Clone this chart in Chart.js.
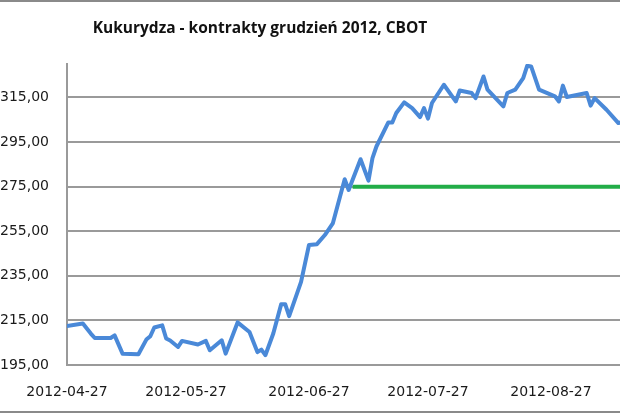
<!DOCTYPE html>
<html>
<head>
<meta charset="utf-8">
<style>
    html, body { margin: 0; padding: 0; background: #ffffff; }
    #wrap { position: relative; width: 620px; height: 413px; }
</style>
<script src="https://cdn.jsdelivr.net/npm/chart.js@4.4.4/dist/chart.umd.min.js"></script>
</head>
<body>
<div id="wrap"><canvas id="chart" width="620" height="413"></canvas></div>
<script>
const chartTitle = "Kukurydza - kontrakty grudzień 2012, CBOT";

const dates = [
    "2012-04-27", "2012-05-01", "2012-05-03", "2012-05-04", "2012-05-08", "2012-05-09",
    "2012-05-11", "2012-05-15", "2012-05-17", "2012-05-18", "2012-05-19", "2012-05-21",
    "2012-05-22", "2012-05-23", "2012-05-25", "2012-05-26", "2012-05-30", "2012-06-01",
    "2012-06-02", "2012-06-05", "2012-06-06", "2012-06-09", "2012-06-12", "2012-06-14",
    "2012-06-15", "2012-06-16", "2012-06-18", "2012-06-20", "2012-06-21", "2012-06-22",
    "2012-06-25", "2012-06-27", "2012-06-29", "2012-07-01", "2012-07-03", "2012-07-06",
    "2012-07-07", "2012-07-10", "2012-07-12", "2012-07-13", "2012-07-14", "2012-07-17",
    "2012-07-18", "2012-07-19", "2012-07-21", "2012-07-23", "2012-07-25", "2012-07-26",
    "2012-07-27", "2012-07-28", "2012-07-31", "2012-08-03", "2012-08-04", "2012-08-07",
    "2012-08-08", "2012-08-10", "2012-08-11", "2012-08-15", "2012-08-16", "2012-08-18",
    "2012-08-20", "2012-08-21", "2012-08-22", "2012-08-24", "2012-08-28", "2012-08-29",
    "2012-08-30", "2012-08-31", "2012-09-05", "2012-09-06", "2012-09-07", "2012-09-10",
    "2012-09-13", "2012-09-14"
];

const prices = [
    212.5, 213.6, 209.1, 207.1, 207.1, 208.3,
    200.1, 199.8, 206.4, 207.9, 211.8, 212.8,
    206.9, 206.0, 203.1, 205.8, 204.2, 205.8,
    201.6, 206.1, 200.1, 214.1, 209.8, 200.8,
    201.9, 199.4, 209.1, 222.3, 222.3, 216.9,
    232.3, 248.8, 249.2, 253.3, 258.5, 278.3,
    273.5, 287.3, 277.7, 287.8, 293.0, 303.8,
    303.8, 308.0, 312.8, 310.2, 306.2, 310.2,
    305.5, 312.5, 320.7, 313.2, 318.1, 317.0,
    314.7, 324.4, 318.5, 311.0, 317.0, 318.5,
    323.7, 329.2, 328.9, 318.5, 315.5, 313.2,
    320.3, 315.2, 317.0, 311.3, 314.7, 309.5,
    303.5, 304.0
];

const targetDates = ["2012-07-08", "2012-09-14"];
const targetValues = [275, 275];

const xTickLabels = ["2012-04-27", "2012-05-27", "2012-06-27", "2012-07-27", "2012-08-27"];
const yTicks = [195, 215, 235, 255, 275, 295, 315];
const yMin = 195;
const yMax = 330;
const lastDate = "2012-09-13";

const DAY = 86400000;

function dayOffset(text) {
    return (Date.parse(text) - Date.parse(dates[0])) / DAY;
}

function dayToLabel(day) {
    return new Date(Date.parse(dates[0]) + Math.round(day) * DAY).toISOString().slice(0, 10);
}

function formatPrice(value) {
    return Number(value).toFixed(2).replace(".", ",");
}

const framePlugin = {
    id: "frame",
    afterDraw(chart) {
        const { ctx, width, height } = chart;
        ctx.save();
        ctx.fillStyle = "#111111";
        ctx.font = "bold 15.5px 'Open Sans', sans-serif";
        ctx.textAlign = "center";
        ctx.textBaseline = "middle";
        ctx.fillText(chartTitle, 260, 29);

        // chart border, only top and bottom edges visible
        ctx.strokeStyle = "#8a8a8a";
        ctx.lineWidth = 2;
        ctx.beginPath();
        ctx.moveTo(0, 1);
        ctx.lineTo(width, 1);
        ctx.moveTo(0, height - 1);
        ctx.lineTo(width, height - 1);
        ctx.stroke();
        ctx.restore();
    }
};

const priceLine = dates.map((d, i) => ({ x: dayOffset(d), y: prices[i] }));
const targetLine = targetDates.map((d, i) => ({ x: dayOffset(d), y: targetValues[i] }));

new Chart(document.getElementById("chart"), {
    type: "line",
    data: {
        datasets: [
            {
                label: "Kukurydza",
                data: priceLine,
                borderColor: "#4a89d8",
                borderWidth: 4,
                tension: 0,
                pointRadius: 0,
                borderJoinStyle: "round",
                borderCapStyle: "round",
                fill: false
            },
            {
                label: "275",
                data: targetLine,
                borderColor: "#22ad48",
                borderWidth: 4,
                tension: 0,
                pointRadius: 0,
                fill: false
            }
        ]
    },
    options: {
        responsive: false,
        animation: false,
        layout: {
            padding: { top: 64, right: 0, left: 0, bottom: 0 }
        },
        plugins: {
            legend: { display: false },
            tooltip: { enabled: false },
            title: { display: false }
        },
        scales: {
            x: {
                type: "linear",
                min: 0,
                max: dayOffset(lastDate) + 0.4,
                afterFit(scale) {
                    scale.height = 48;
                },
                afterBuildTicks(scale) {
                    scale.ticks = xTickLabels.map(d => ({ value: dayOffset(d) }));
                },
                grid: { display: false, drawTicks: false },
                border: { display: true, color: "#9a9a9a", width: 2 },
                ticks: {
                    color: "#1a1a1a",
                    font: { family: "'DejaVu Sans', sans-serif", size: 14 },
                    padding: 19,
                    maxRotation: 0,
                    autoSkip: false,
                    callback(value) {
                        return dayToLabel(value);
                    }
                }
            },
            y: {
                min: yMin,
                max: yMax,
                afterFit(scale) {
                    scale.width = 67;
                },
                afterBuildTicks(scale) {
                    scale.ticks = yTicks.map(v => ({ value: v }));
                },
                grid: { color: "#9a9a9a", lineWidth: 2, drawTicks: false },
                border: { display: true, color: "#9a9a9a", width: 2 },
                ticks: {
                    color: "#1a1a1a",
                    font: { family: "'DejaVu Sans', sans-serif", size: 14 },
                    padding: 18,
                    callback(value) {
                        return formatPrice(value);
                    }
                }
            }
        }
    },
    plugins: [framePlugin]
});
</script>
</body>
</html>
